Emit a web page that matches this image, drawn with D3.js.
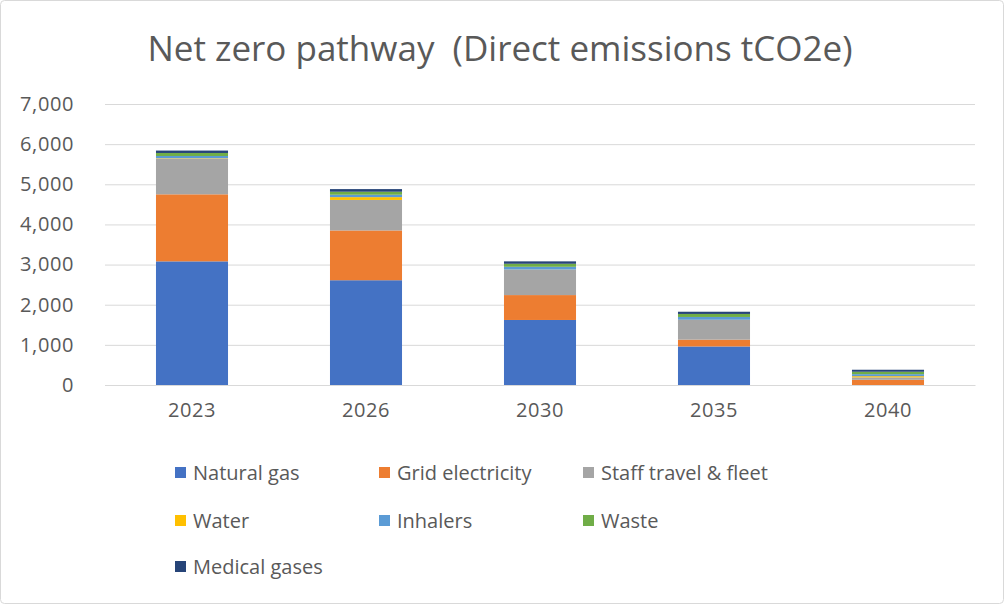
<!DOCTYPE html>
<html><head><meta charset="utf-8">
<script src="https://cdn.jsdelivr.net/npm/d3@7"></script>
<style>body{margin:0;background:#fff}svg{display:block}text{font-family:"Open Sans",Calibri,sans-serif;fill:#595959}</style>
</head><body><svg id="c" width="1005" height="605"></svg>
<script>
const years = ["2023","2026","2030","2035","2040"];
const seriesNames = ["Natural gas","Grid electricity","Staff travel & fleet","Water","Inhalers","Waste","Medical gases"];
const seriesColors = ["#4472C4","#ED7D31","#A5A5A5","#FFC000","#5B9BD5","#70AD47","#264478"];
const naturalGas = [3080, 2610, 1620, 960, 0];
const gridElectricity = [1670, 1240, 620, 170, 130];
const staffTravel = [890, 760, 630, 490, 60];
const water = [10, 70, 5, 5, 30];
const inhalers = [55, 60, 70, 70, 50];
const waste = [75, 75, 75, 75, 60];
const medicalGases = [60, 65, 60, 55, 50];
const yTicks = [0,1000,2000,3000,4000,5000,6000,7000];
const title = "Net zero pathway  (Direct emissions tCO2e)";

const seriesValues = [naturalGas, gridElectricity, staffTravel, water, inhalers, waste, medicalGases];
const rows = years.map((y,i)=>{const r={year:y}; seriesNames.forEach((s,j)=>r[s]=seriesValues[j][i]); return r;});
const stack = d3.stack().keys(seriesNames)(rows);

const svg = d3.select("#c");
svg.append("rect").attr("x",0.5).attr("y",0.5).attr("width",1003).attr("height",603).attr("rx",4)
  .attr("fill","#fff").attr("stroke","#d9d9d9");

svg.append("text").attr("x",500).attr("y",61).attr("text-anchor","middle")
  .style("font-size","35px").style("white-space","pre").text(title);

const x = d3.scaleBand().domain(years).range([105,975]).paddingInner(0.586).paddingOuter(0.293);
const y = d3.scaleLinear().domain([0,7000]).range([385,104]);

const grid = svg.append("g");
grid.selectAll("line").data(yTicks).join("line")
  .attr("x1",105).attr("x2",975).attr("y1",d=>y(d)+0.5).attr("y2",d=>y(d)+0.5)
  .attr("stroke","#d9d9d9").attr("stroke-width",1);

const yAxis = svg.append("g").attr("transform","translate(105,0)")
  .call(d3.axisLeft(y).tickValues(yTicks).tickSize(0).tickPadding(31).tickFormat(d3.format(",")));
yAxis.select(".domain").remove();
yAxis.selectAll("text").style("font-size","20px").style("letter-spacing","0.6px").style("font-family",'"Open Sans",sans-serif').attr("fill","#595959");

svg.append("g").selectAll("g").data(stack).join("g").attr("fill",(d,i)=>seriesColors[i])
  .selectAll("rect").data(d=>d).join("rect")
  .attr("x",d=>x(d.data.year)).attr("width",x.bandwidth())
  .attr("y",d=>y(d[1])).attr("height",d=>Math.max(0,y(d[0])-y(d[1])));

const xAxis = svg.append("g").attr("transform","translate(0,385)")
  .call(d3.axisBottom(x).tickSize(0).tickPadding(18));
xAxis.select(".domain").attr("stroke","#d9d9d9");
xAxis.selectAll("text").style("font-size","20px").style("letter-spacing","0.6px").style("font-family",'"Open Sans",sans-serif').attr("fill","#595959");

const legX = [175, 379, 583], legY = [472, 520, 566];
const leg = svg.append("g").selectAll("g").data(seriesNames).join("g")
  .attr("transform",(d,i)=>`translate(${legX[i%3]},${legY[Math.floor(i/3)]})`);
leg.append("rect").attr("x",0).attr("y",-5).attr("width",11).attr("height",11).attr("fill",(d,i)=>seriesColors[i]);
leg.append("text").attr("x",18).attr("y",8).style("font-size","20px").text(d=>d);
</script></body></html>
